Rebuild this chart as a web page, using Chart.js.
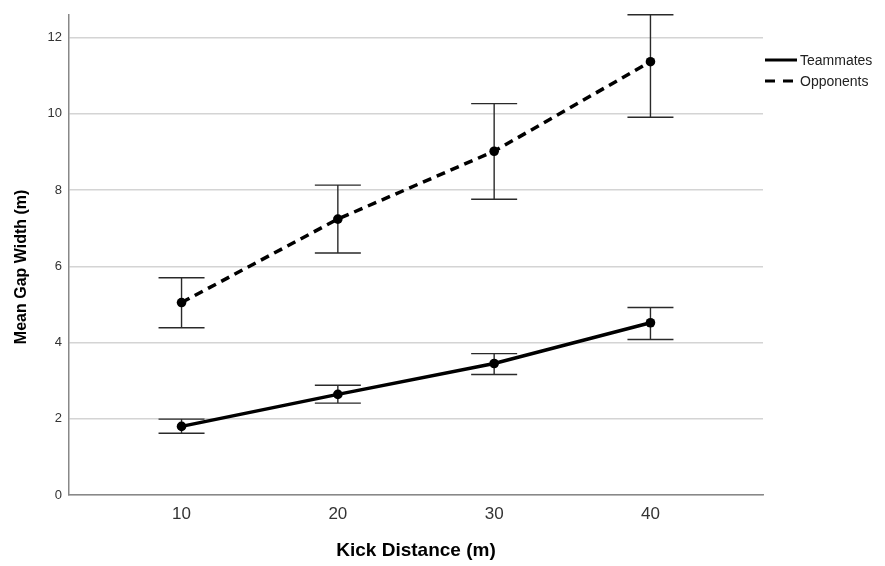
<!DOCTYPE html>
<html>
<head>
<meta charset="utf-8">
<script src="https://cdn.jsdelivr.net/npm/chart.js@4/dist/chart.umd.min.js"></script>
<style>
html,body{margin:0;padding:0;background:#fff;}
#c{display:block;}
</style>
</head>
<body>
<canvas id="c" width="885" height="566"></canvas>
<script>
const distances = [10, 20, 30, 40];
const yTickValues = [0, 2, 4, 6, 8, 10, 12];
const xTitle = 'Kick Distance (m)';
const yTitle = 'Mean Gap Width (m)';
const teamLabel = 'Teammates';
const teamMean = [1.80, 2.64, 3.45, 4.52];
const teamLow  = [1.62, 2.41, 3.16, 4.08];
const teamHigh = [1.99, 2.88, 3.71, 4.92];
const oppLabel = 'Opponents';
const oppMean = [5.05, 7.24, 9.02, 11.37];
const oppLow  = [4.39, 6.35, 7.76, 9.91];
const oppHigh = [5.70, 8.13, 10.27, 12.60];

const FONT = '"Liberation Sans", Arial, sans-serif';

const errorBars = {
  id: 'errorBars',
  beforeDatasetsDraw(chart) {
    const ctx = chart.ctx, xs = chart.scales.x, ys = chart.scales.y;
    ctx.save();
    ctx.strokeStyle = '#2a2a2a';
    ctx.lineWidth = 1.4;
    chart.data.datasets.forEach(ds => {
      ds.data.forEach((p, i) => {
        const x = xs.getPixelForValue(p.x);
        const yl = ys.getPixelForValue(ds.low[i]);
        const yh = ys.getPixelForValue(ds.high[i]);
        const hw = 23;
        ctx.beginPath();
        ctx.moveTo(x, yl); ctx.lineTo(x, yh);
        ctx.moveTo(x - hw, yl); ctx.lineTo(x + hw, yl);
        ctx.moveTo(x - hw, yh); ctx.lineTo(x + hw, yh);
        ctx.stroke();
      });
    });
    ctx.restore();
  }
};

const extras = {
  id: 'extras',
  afterDraw(chart) {
    const ctx = chart.ctx;
    const area = chart.chartArea;
    const x0 = area.right + 2;
    ctx.save();
    chart.data.datasets.forEach((ds, i) => {
      const y = 60 + i * 21;
      ctx.strokeStyle = '#000';
      ctx.lineWidth = 3;
      ctx.setLineDash(ds.borderDash ? [10, 8] : []);
      ctx.beginPath();
      ctx.moveTo(x0, y); ctx.lineTo(x0 + 32, y);
      ctx.stroke();
      ctx.setLineDash([]);
      ctx.fillStyle = '#222';
      ctx.font = '14px ' + FONT;
      ctx.textBaseline = 'middle';
      ctx.textAlign = 'left';
      ctx.fillText(ds.label, x0 + 35, y + 1);
    });
    // y axis title
    ctx.translate(22, (area.top + area.bottom) / 2 + 12);
    ctx.rotate(-Math.PI / 2);
    ctx.fillStyle = '#000';
    ctx.font = 'bold 16px ' + FONT;
    ctx.textAlign = 'center';
    ctx.textBaseline = 'middle';
    ctx.fillText(yTitle, 0, 0);
    ctx.restore();
  }
};

function pts(xs, ys) { return xs.map((x, i) => ({x: x, y: ys[i]})); }

new Chart(document.getElementById('c'), {
  type: 'line',
  data: {
    datasets: [
      {
        label: teamLabel,
        data: pts(distances, teamMean),
        low: teamLow, high: teamHigh,
        borderColor: '#000', backgroundColor: '#000',
        borderWidth: 3.5, pointRadius: 4.8, pointHoverRadius: 4.8,
        pointBackgroundColor: '#000', pointBorderWidth: 0,
        tension: 0, fill: false
      },
      {
        label: oppLabel,
        data: pts(distances, oppMean),
        low: oppLow, high: oppHigh,
        borderColor: '#000', backgroundColor: '#000',
        borderWidth: 3.5, borderDash: [9, 6], pointRadius: 4.8, pointHoverRadius: 4.8,
        pointBackgroundColor: '#000', pointBorderWidth: 0,
        tension: 0, fill: false
      }
    ]
  },
  options: {
    responsive: false,
    animation: false,
    layout: { padding: { top: 5, right: 122, left: 0, bottom: 0 } },
    plugins: { legend: { display: false }, tooltip: { enabled: false } },
    scales: {
      x: {
        type: 'linear',
        min: 2.8, max: 47.2,
        afterBuildTicks(s) { s.ticks = distances.map(v => ({value: v})); },
        afterFit(s) { s.height = 71; },
        grid: { display: false, drawTicks: false },
        border: { color: '#888', width: 1.5 },
        ticks: { color: '#333', font: { family: FONT, size: 17 }, padding: 9, autoSkip: false, maxRotation: 0 },
        title: { display: true, text: xTitle, color: '#000', font: { family: FONT, size: 19, weight: 'bold' }, padding: { top: 4, bottom: 4 } }
      },
      y: {
        min: 0, max: 12.6,
        afterBuildTicks(s) { s.ticks = yTickValues.map(v => ({value: v})); },
        afterFit(s) { s.width = 69; },
        grid: { color: '#d4d4d4', lineWidth: 1.5, drawTicks: false },
        border: { color: '#888', width: 1.5 },
        ticks: { color: '#333', font: { family: FONT, size: 13 }, padding: 7 },
        title: { display: false, text: yTitle }
      }
    }
  },
  plugins: [errorBars, extras]
});
</script>
</body>
</html>
